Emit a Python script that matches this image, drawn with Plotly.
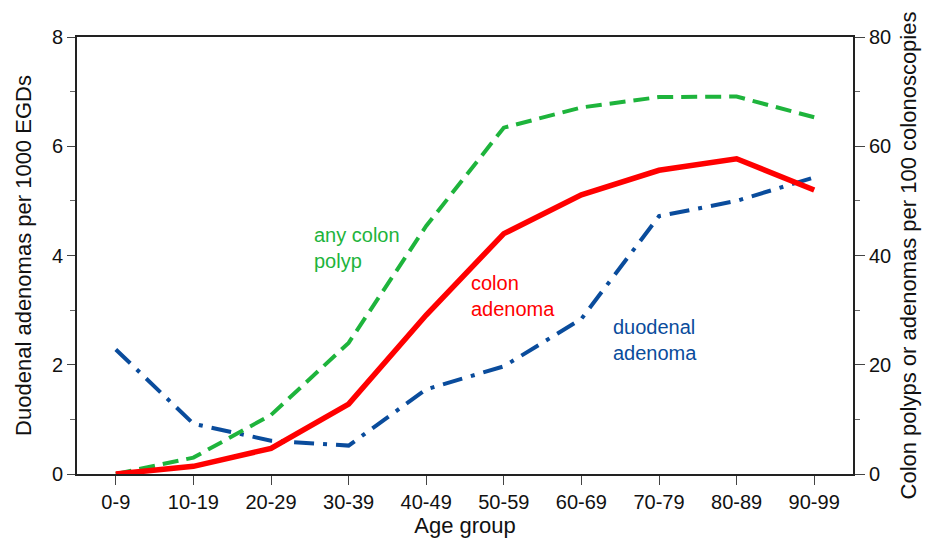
import plotly.graph_objects as go

age_groups = ["0-9", "10-19", "20-29", "30-39", "40-49", "50-59", "60-69", "70-79", "80-89", "90-99"]
duodenal_adenoma = [2.28, 0.92, 0.61, 0.52, 1.55, 1.97, 2.84, 4.72, 5.0, 5.43]
any_colon_polyp = [0.0, 3.0, 10.8, 24.0, 45.4, 63.4, 67.1, 69.0, 69.1, 65.3]
colon_adenoma = [0.0, 1.4, 4.7, 12.8, 29.1, 44.0, 51.1, 55.6, 57.7, 52.0]

FONT = "Liberation Sans, Arial, sans-serif"
GREEN = "#1eb43c"
RED = "#ff0000"
BLUE = "#0a4c9c"

fig = go.Figure()
fig.add_trace(go.Scatter(x=age_groups, y=duodenal_adenoma, mode="lines", yaxis="y",
                         line=dict(color=BLUE, width=4, dash="20px,9px,4px,9px"),
                         name="duodenal adenoma"))
fig.add_trace(go.Scatter(x=age_groups, y=any_colon_polyp, mode="lines", yaxis="y2",
                         line=dict(color=GREEN, width=4, dash="16px,8px"),
                         name="any colon polyp"))
fig.add_trace(go.Scatter(x=age_groups, y=colon_adenoma, mode="lines", yaxis="y2",
                         line=dict(color=RED, width=5.5),
                         name="colon adenoma"))

tickfont = dict(family=FONT, size=20, color="#111")
titlefont = dict(family=FONT, size=22, color="#111")

# page body has an 8px default margin, compensate in the figure margins
fig.update_layout(
    width=931, height=540,
    margin=dict(l=69, r=86, t=29, b=74),
    paper_bgcolor="white", plot_bgcolor="white",
    showlegend=False,
    xaxis=dict(type="category", range=[-0.5, 9.5], showgrid=False, zeroline=False,
               automargin=False,
               showline=True, linecolor="#222", linewidth=2, mirror=True,
               ticks="outside", ticklen=9, tickwidth=1, tickcolor="#444",
               tickfont=tickfont,
               title=dict(text="Age group", font=titlefont, standoff=0)),
    yaxis=dict(range=[0, 8], dtick=2, showgrid=False, zeroline=False, automargin=False,
               showline=True, linecolor="#222", linewidth=2,
               ticks="outside", ticklen=8, tickwidth=1, tickcolor="#444",
               minor=dict(dtick=1, ticks="outside", ticklen=5, tickcolor="#666", showgrid=False),
               tickfont=tickfont,
               title=dict(text="Duodenal adenomas per 1000 EGDs", font=titlefont, standoff=14)),
    yaxis2=dict(range=[0, 80], dtick=20, overlaying="y", side="right", showgrid=False,
                automargin=False,
                zeroline=False, showline=True, linecolor="#222", linewidth=2,
                ticks="outside", ticklen=10, tickwidth=1, tickcolor="#444",
                minor=dict(dtick=10, ticks="outside", ticklen=5, tickcolor="#666", showgrid=False),
                tickfont=tickfont,
                title=dict(text="Colon polyps or adenomas per 100 colonoscopies", font=titlefont, standoff=10)),
)

ann_font = dict(family=FONT, size=20)
fig.add_annotation(x="30-39", y=4.13, xshift=-37, text="any colon<br>polyp", showarrow=False,
                   xanchor="left", align="left", font=dict(color=GREEN, **ann_font), yref="y")
fig.add_annotation(x="50-59", y=3.25, xshift=-35, text="colon<br>adenoma", showarrow=False,
                   xanchor="left", align="left", font=dict(color=RED, **ann_font), yref="y")
fig.add_annotation(x="60-69", y=2.46, xshift=30, text="duodenal<br>adenoma", showarrow=False,
                   xanchor="left", align="left", font=dict(color=BLUE, **ann_font), yref="y")

fig.write_html("out.html")
